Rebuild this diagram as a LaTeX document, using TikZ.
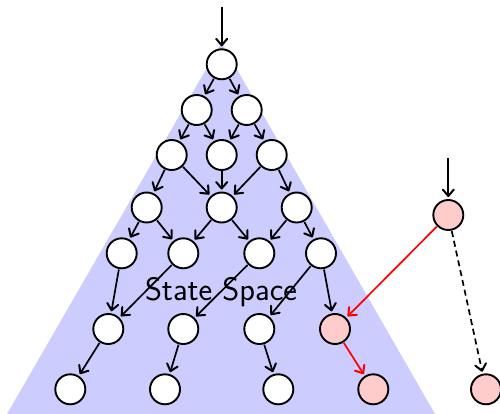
\documentclass[tikz,border=0pt]{standalone}
\usetikzlibrary{arrows.meta}
\definecolor{spaceblue}{RGB}{204,204,255}
\definecolor{pinkfill}{RGB}{255,204,204}
\begin{document}
\begin{tikzpicture}[x=1pt,y=-1pt,
  st/.style={circle,draw=black,fill=white,line width=1.9pt,minimum size=30pt,inner sep=0pt},
  pk/.style={st,fill=pinkfill},
  edge/.style={-{Straight Barb[length=6.5pt,width=11pt,line width=2pt,round]},line width=1.7pt,shorten >=2pt,shorten <=0.5pt},
  redge/.style={edge,draw=red},
  dedge/.style={edge,dash pattern=on 6pt off 4pt}]
\useasboundingbox (0,0) rectangle (500,414);
\fill[spaceblue] (221.5,42.5) -- (435,414) -- (7,414) -- cycle;
% row 1
\node[st] (n1) at (221.7,64.3) {};
% row 2
\node[st] (n2a) at (196.7,110) {};
\node[st] (n2b) at (246.7,110) {};
% row 3
\node[st] (n3a) at (171.7,155) {};
\node[st] (n3b) at (221.7,155) {};
\node[st] (n3c) at (271.7,155) {};
% row 4
\node[st] (n4a) at (146.7,207.5) {};
\node[st] (n4b) at (221.7,207.5) {};
\node[st] (n4c) at (296.7,207.5) {};
% row 5
\node[st] (n5a) at (121.7,253.3) {};
\node[st] (n5b) at (183.3,253.3) {};
\node[st] (n5c) at (259.3,253.3) {};
\node[st] (n5d) at (321,253.3) {};
% row 6
\node[st] (n6a) at (108.3,329) {};
\node[st] (n6b) at (183.3,329) {};
\node[st] (n6c) at (259.3,329) {};
\node[pk] (n6d) at (335,329) {};
% row 7
\node[st] (n7a) at (70.3,389.3) {};
\node[st] (n7b) at (165,389.3) {};
\node[st] (n7c) at (278.3,389.3) {};
\node[pk] (n7d) at (373.3,389.3) {};
% right
\node[pk] (r1) at (448.3,215) {};
\node[pk] (r2) at (486,389.3) {};
\coordinate (top) at (221.7,7);
\coordinate (rtop) at (448.3,158);
% label
\node[anchor=base,inner sep=0pt,font=\fontsize{32.5}{38}\selectfont\sffamily] (lab) at (221,300) {State Space};
% edges
\draw[edge] (top) -- (n1);
\draw[edge] (n1) -- (n2a);
\draw[edge] (n1) -- (n2b);
\draw[edge] (n2a) -- (n3a);
\draw[edge] (n2a) -- (n3b);
\draw[edge] (n2b) -- (n3b);
\draw[edge] (n2b) -- (n3c);
\draw[edge] (n3a) -- (n4a);
\draw[edge] (n3a) -- (n4b);
\draw[edge] (n3b) -- (n4b);
\draw[edge] (n3c) -- (n4b);
\draw[edge] (n3c) -- (n4c);
\draw[edge] (n4a) -- (n5a);
\draw[edge] (n4a) -- (n5b);
\draw[edge] (n4b) -- (n5b);
\draw[edge] (n4b) -- (n5c);
\draw[edge] (n4c) -- (n5c);
\draw[edge] (n4c) -- (n5d);
\draw[edge] (n5a) -- (n6a);
\draw[edge] (n5b) -- (n6a);
\draw[edge] (n5c) -- (n6b);
\draw[edge] (n5d) -- (n6c);
\draw[edge] (n5d) -- (n6d);
\draw[edge] (n6a) -- (n7a);
\draw[edge] (n6b) -- (n7b);
\draw[edge] (n6c) -- (n7c);
\draw[redge] (n6d) -- (n7d);
\draw[edge] (rtop) -- (r1);
\draw[redge] (r1) -- (n6d);
\draw[dedge] (r1) -- (r2);
\end{tikzpicture}
\end{document}
